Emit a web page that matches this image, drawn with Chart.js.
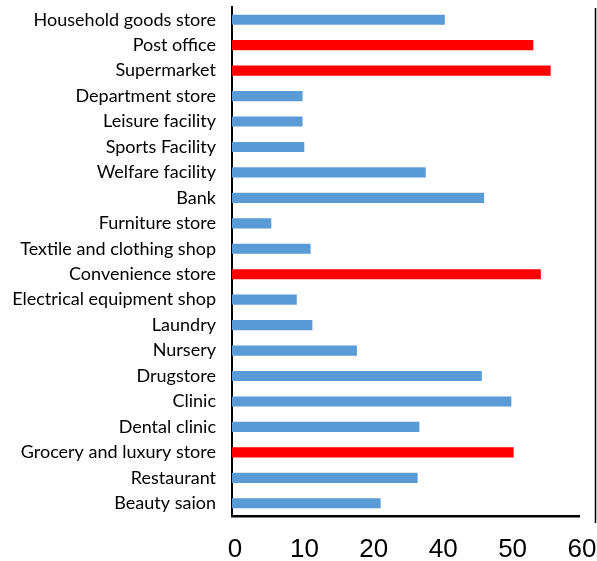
<!DOCTYPE html>
<html lang="en">
<head>
  <meta charset="UTF-8">
  <title>Facilities</title>
  <script src="https://cdn.jsdelivr.net/npm/chart.js"></script>
  <style>
    html, body { margin: 0; padding: 0; background: #fff; }
    #wrap { width: 597px; height: 561px; position: relative; }
  </style>
</head>
<body>
  <div id="wrap"><canvas id="chart"></canvas></div>
  <script>
    const categories = [
      'Household goods store', 'Post office', 'Supermarket', 'Department store',
      'Leisure facility', 'Sports Facility', 'Welfare facility', 'Bank',
      'Furniture store', 'Textile and clothing shop', 'Convenience store',
      'Electrical equipment shop', 'Laundry', 'Nursery', 'Drugstore', 'Clinic',
      'Dental clinic', 'Grocery and luxury store', 'Restaurant', 'Beauty saion'
    ];
    const values = [
      36.8, 52.1, 55.1, 12.2, 12.2, 12.5, 33.5, 43.6, 6.8, 13.6,
      53.4, 11.2, 13.9, 21.6, 43.2, 48.3, 32.4, 48.7, 32.1, 25.7
    ];
    const highlighted = ['Post office', 'Supermarket', 'Convenience store', 'Grocery and luxury store'];
    // the picture shows these six labels spread evenly along the axis (no 30)
    const tickLabels = ['0', '10', '20', '40', '50', '60'];

    const blue = '#5B9BD5';
    const red = '#FF0000';

    // thin vertical rule at the right edge of the picture
    const edgeLine = {
      id: 'edgeLine',
      afterDraw(chart) {
        const ctx = chart.ctx, a = chart.chartArea;
        ctx.save();
        ctx.strokeStyle = '#000';
        ctx.lineWidth = 1.5;
        ctx.beginPath();
        ctx.moveTo(chart.width - 1.5, a.top + 1);
        ctx.lineTo(chart.width - 1.5, a.bottom + 7);
        ctx.stroke();
        ctx.restore();
      }
    };

    new Chart(document.getElementById('chart'), {
      type: 'bar',
      data: {
        labels: categories,
        datasets: [{
          data: values,
          backgroundColor: categories.map(c => highlighted.includes(c) ? red : blue),
          barPercentage: 0.4,
          categoryPercentage: 1.0
        }]
      },
      options: {
        indexAxis: 'y',
        responsive: true,
        maintainAspectRatio: false,
        animation: false,
        layout: { autoPadding: false, padding: { top: 7, right: 18, left: 0, bottom: 0 } },
        plugins: { legend: { display: false }, tooltip: { enabled: false } },
        scales: {
          x: {
            min: 0,
            max: 60,
            afterBuildTicks(axis) {
              axis.ticks = tickLabels.map((t, i) => ({ value: i * 12 }));
            },
            ticks: {
              autoSkip: false,
              maxRotation: 0,
              padding: 18,
              labelOffset: 3,
              color: '#000',
              font: { family: 'Liberation Sans, Arial, sans-serif', size: 26 },
              callback: (v, i) => tickLabels[i]
            },
            grid: { display: false, drawTicks: false },
            border: { display: true, color: '#000', width: 2.5 },
            afterFit(axis) {
              axis.height = 45;
              axis.paddingLeft = 0;
              axis.paddingRight = 0;
            }
          },
          y: {
            ticks: {
              autoSkip: false,
              padding: 16,
              color: '#000',
              font: { family: 'Lato, Open Sans, sans-serif', size: 18 }
            },
            grid: { display: false, drawTicks: false },
            border: { display: true, color: '#000', width: 2 },
            afterFit(axis) {
              axis.width = 232;
              axis.paddingTop = 0;
              axis.paddingBottom = 0;
            }
          }
        }
      },
      plugins: [edgeLine]
    });
  </script>
</body>
</html>
